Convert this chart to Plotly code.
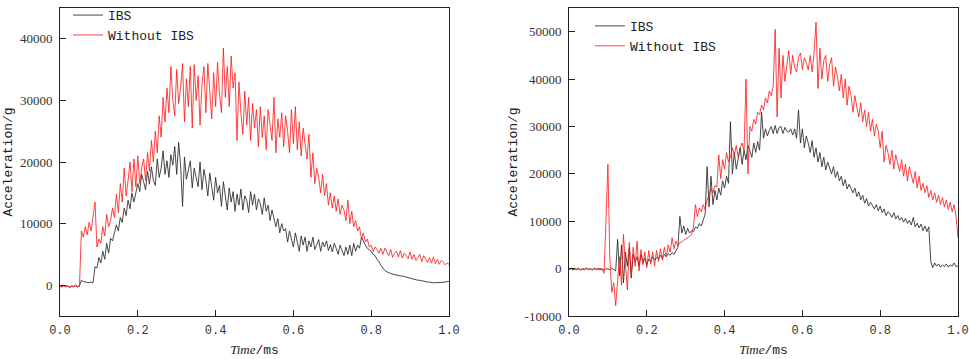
import numpy as np
import plotly.graph_objects as go

time_ms = [round(i * 0.005, 3) for i in range(201)]

# ---- left panel (values in thousands of g) ----
left_ibs_k = [
    -0.1, -0.2, 0.0, -0.2, -0.1, -0.3, -0.1, -0.2, 0.0, -0.2,
    -0.1, 0.8, 0.6, 0.5, 0.5, 0.4, 0.5, 0.4, 3.0, 2.8,
    4.5, 3.6, 5.5, 4.2, 6.8, 5.2, 7.6, 7.2, 8.5, 9.8,
    8.8, 11.0, 10.2, 12.5, 11.3, 13.8, 12.4, 15.0, 13.5, 14.8,
    16.5, 15.2, 18.0, 16.8, 15.5, 18.5, 16.4, 19.2, 17.0, 16.2,
    20.5, 17.5, 19.0, 21.8, 18.0, 20.2, 17.5, 21.2, 19.5, 22.5,
    18.0, 23.2, 19.5, 12.8, 20.8, 17.2, 18.5, 20.2, 15.8, 19.0,
    17.5, 16.0, 20.0, 15.5, 18.8, 17.0, 14.5, 18.2, 16.0, 13.8,
    17.5, 15.0, 16.2, 12.8, 16.8, 14.0, 12.2, 15.8, 13.5, 15.2,
    12.0, 14.8, 13.0, 15.6, 12.2, 14.5, 13.8, 11.8, 15.2, 13.0,
    14.8, 12.2, 14.0, 13.2, 11.5, 14.2, 12.0, 13.0, 10.5, 12.2,
    11.0, 9.5, 10.8, 8.5, 10.0, 8.8, 9.2, 7.0, 8.8, 7.5,
    6.2, 8.5, 7.0, 5.5, 8.0, 6.5, 7.8, 5.5, 7.2, 6.2,
    7.8, 5.8, 6.5, 7.4, 5.5, 7.0, 6.2, 7.2, 5.6, 6.6,
    5.4, 6.8, 6.0, 5.0, 6.5, 5.6, 4.8, 6.2, 5.0, 6.5,
    4.8, 6.8, 5.5, 6.5, 6.0, 7.8, 7.0, 6.5, 6.0, 5.8,
    5.5, 5.0, 4.8, 4.2, 3.8, 3.2, 2.8, 2.4, 2.2, 2.0,
    1.9, 1.8, 1.7, 1.6, 1.6, 1.5, 1.5, 1.4, 1.4, 1.3,
    1.2, 1.1, 1.0, 0.9, 0.8, 0.8, 0.7, 0.6, 0.6, 0.5,
    0.5, 0.4, 0.4, 0.4, 0.4, 0.4, 0.5, 0.5, 0.5, 0.6,
    0.6,
]
left_without_k = [
    -0.2, -0.3, -0.1, -0.3, -0.2, -0.4, -0.2, -0.3, -0.1, -0.3,
    -0.2, 8.8, 7.8, 9.5, 8.2, 10.2, 8.8, 11.0, 13.5, 6.2,
    7.5, 6.8, 9.5, 8.0, 11.5, 9.5, 10.5, 12.5, 11.0, 14.8,
    11.8, 16.5, 13.5, 19.0, 14.5, 17.0, 20.0, 15.2, 20.5, 16.0,
    21.0, 16.5, 19.0, 20.5, 17.0, 21.5, 18.5, 23.5, 20.0, 25.0,
    21.5, 27.5, 24.0, 30.5, 26.5, 32.0, 28.0, 35.5, 30.0, 27.5,
    35.0, 29.5, 32.0, 36.0, 26.5, 33.5, 29.0, 35.5, 25.5, 35.8,
    30.0, 34.0, 26.0, 32.5, 35.5, 28.0, 36.0, 31.5, 27.0, 34.5,
    29.0, 36.2, 31.0, 28.0, 38.5, 30.5, 35.5, 29.0, 37.2, 32.0,
    34.5, 23.5, 33.0, 28.0, 24.5, 31.5, 26.0, 30.5, 23.5, 29.5,
    25.5, 28.5, 22.5, 29.0, 24.0, 27.5, 22.0, 28.5, 25.5, 23.5,
    30.5, 21.5, 27.0, 24.0, 28.0, 22.5, 27.5, 25.0, 21.5, 28.5,
    23.0, 29.0, 22.0, 26.5, 21.0, 25.5, 23.0, 20.5, 24.5, 17.5,
    21.5, 16.5, 19.0, 17.5, 15.0, 18.0, 14.5, 16.5, 13.0, 15.0,
    12.5, 14.5, 12.0, 14.0, 11.5, 13.0, 12.2, 10.5, 13.8, 10.0,
    12.0, 9.5, 10.5, 8.8, 9.5, 7.5, 8.5, 7.0, 7.5, 6.2,
    6.5, 5.5, 6.2, 5.8, 5.2, 6.0, 5.0, 6.0, 5.4, 4.8,
    5.8, 4.5, 5.2, 5.5, 4.6, 5.6, 4.4, 5.2, 4.8, 4.3,
    5.4, 4.2, 5.0, 4.0, 4.5, 5.0, 3.8, 4.8, 4.2, 3.7,
    4.5, 3.6, 4.6, 3.5, 4.2, 3.4, 4.0, 3.8, 3.3, 3.6,
    3.4,
]

# ---- right panel (values in thousands of g) ----
right_ibs_k = [
    -0.2, 0.0, -0.3, -0.1, -0.2, 0.0, -0.3, -0.1, -0.2, 0.0,
    -0.2, -0.1, -0.3, 0.0, -0.2, -0.1, -0.2, -0.1, -0.3, 0.0,
    -0.1, -0.2, 0.1, -0.3, -0.5, 6.2, -1.5, 5.0, -3.0, 3.5,
    0.5, 4.5, -2.0, 3.0, 1.5, 2.5, 0.5, 3.0, 1.2, 2.2,
    0.8, 2.0, 1.5, 2.5, 1.8, 2.4, 2.0, 2.8, 2.2, 3.0,
    2.5, 3.2, 2.8, 3.4, 3.0, 3.8, 4.5, 11.0, 7.5, 9.0,
    7.2, 8.5, 7.5, 8.0, 7.8, 8.8, 8.5, 9.5, 9.0, 10.2,
    11.5, 21.5, 13.0, 19.5, 13.5, 16.5, 14.5, 17.0, 15.5, 18.5,
    17.0, 19.5, 18.0, 31.0, 20.0, 24.5, 21.0, 23.2, 25.5, 22.0,
    25.0, 23.0, 26.0, 24.8, 23.5, 26.5, 24.5, 26.8, 25.0, 33.0,
    27.5, 29.5, 28.0, 29.2, 30.0, 28.5, 30.2, 28.5, 29.8, 30.0,
    28.5, 29.8, 29.0, 28.8, 29.5, 28.2, 29.5, 27.5, 33.5, 26.5,
    29.5, 25.5, 28.0, 26.5, 24.5, 27.0, 23.5, 25.5, 22.5, 24.5,
    21.5, 23.5, 20.8, 22.5, 21.0, 20.0, 21.5, 19.2, 20.5, 18.5,
    19.5, 17.5, 18.8, 16.8, 17.8, 17.0, 16.0, 17.0, 15.2, 16.2,
    14.5, 15.5, 13.8, 14.8, 13.2, 14.0, 13.4, 12.6, 13.5, 12.2,
    13.2, 11.8, 12.6, 11.2, 12.0, 11.6, 10.8, 11.8, 10.5, 11.2,
    10.2, 10.8, 9.8, 10.6, 9.5, 10.2, 9.2, 10.8, 8.8, 9.6,
    8.6, 9.4, 8.0, 9.0, 7.8, 8.8, 1.5, 0.2, 1.2, 0.5,
    1.0, 0.3, 0.8, 0.4, 1.0, 0.3, 0.8, 0.5, 1.2, 0.4,
    0.6,
]
right_without_k = [
    -0.1, 0.1, -0.2, 0.0, -0.1, 0.1, -0.2, 0.0, -0.1, 0.2,
    -0.1, 0.0, -0.2, 0.1, -0.1, 0.0, 0.1, -0.1, -1.0, 10.0,
    22.0, 2.0, -5.0, -3.0, -7.8, -2.5, 2.5, -3.5, 7.2, 1.0,
    -4.5, 5.5, -1.5, 4.5, 0.5, 5.8, -0.5, 4.0, 0.8, 3.5,
    0.2, 3.8, 1.0, 3.5, 0.5, 3.8, 1.5, 4.2, 1.8, 4.5,
    2.5, 5.0, 3.5, 6.5, 4.2, 5.8, 4.8, 5.5, 5.6, 6.0,
    6.2, 6.5, 6.8, 7.2, 8.8, 13.5, 11.0, 12.8, 12.0, 13.5,
    12.5, 14.5, 15.5, 16.8, 16.0, 17.5, 17.2, 24.0, 19.0, 23.0,
    21.0, 24.5, 22.5, 23.5, 25.5, 24.0, 26.0, 23.5, 25.5, 26.5,
    25.0, 40.0, 20.0, 30.0, 29.0, 31.5, 30.5, 33.0, 32.5, 34.5,
    33.5, 36.0, 35.0, 37.5, 36.5, 38.5, 50.5, 32.0, 46.5, 36.0,
    45.0, 39.5, 43.0, 46.0, 41.0, 45.0, 42.5, 41.5, 44.5, 45.5,
    42.0, 44.5, 43.5, 42.0, 45.0, 41.5, 45.5, 52.0, 38.0, 46.5,
    40.0, 44.0, 45.0, 39.5, 43.0, 44.5, 38.5, 42.5, 40.5, 37.5,
    41.0, 36.0, 40.0, 34.5, 38.5, 36.5, 33.0, 36.5, 34.0, 32.0,
    35.0, 31.0, 33.5, 30.0, 33.0, 29.0, 31.5, 28.0, 30.5, 29.0,
    25.5, 29.0, 22.5, 26.0, 24.5, 22.0, 25.0, 21.0, 24.0, 22.5,
    20.5, 23.0, 19.5, 22.0, 18.5, 21.5, 20.0, 18.0, 20.5, 17.0,
    19.5, 16.5, 18.0, 16.0, 17.5, 15.0, 16.5, 14.5, 16.0, 14.0,
    15.5, 13.5, 15.0, 13.0, 14.5, 12.5, 14.0, 12.0, 13.5, 11.0,
    6.5,
]

for arr in (left_ibs_k, left_without_k, right_ibs_k, right_without_k):
    assert len(arr) == len(time_ms), len(arr)

series_names = ["IBS", "Without IBS"]
x_tickvals = [0.0, 0.2, 0.4, 0.6, 0.8, 1.0]
x_ticktext = ["0.0", "0.2", "0.4", "0.6", "0.8", "1.0"]
left_y_tickvals = [0, 10000, 20000, 30000, 40000]
left_y_ticktext = ["0", "10000", "20000", "30000", "40000"]
right_y_tickvals = [-10000, 0, 10000, 20000, 30000, 40000, 50000]
right_y_ticktext = ["-10000", "0", "10000", "20000", "30000", "40000", "50000"]

IBS_COLOR = "rgba(40,40,40,0.85)"
RED_COLOR = "rgba(255,20,20,0.8)"
MONO = "'Liberation Mono', 'Courier New', monospace"
SERIF = "'Liberation Serif', 'Times New Roman', serif"

fig = go.Figure()
fig.add_trace(go.Scatter(x=time_ms, y=np.array(left_ibs_k) * 1000, mode="lines",
                         name=series_names[0], line=dict(color=IBS_COLOR, width=1),
                         xaxis="x", yaxis="y", legend="legend"))
fig.add_trace(go.Scatter(x=time_ms, y=np.array(left_without_k) * 1000, mode="lines",
                         name=series_names[1], line=dict(color=RED_COLOR, width=1),
                         xaxis="x", yaxis="y", legend="legend"))
fig.add_trace(go.Scatter(x=time_ms, y=np.array(right_ibs_k) * 1000, mode="lines",
                         name=series_names[0], line=dict(color=IBS_COLOR, width=1),
                         xaxis="x2", yaxis="y2", legend="legend2"))
fig.add_trace(go.Scatter(x=time_ms, y=np.array(right_without_k) * 1000, mode="lines",
                         name=series_names[1], line=dict(color=RED_COLOR, width=1),
                         xaxis="x2", yaxis="y2", legend="legend2"))

W, H = 969, 359
axis_common = dict(showline=True, linecolor="#222", linewidth=1, mirror=True,
                   ticks="inside", ticklen=6, tickcolor="#222", showgrid=False,
                   zeroline=False, automargin=False)
xt = dict(text="<i><span style=\"font-family:'Liberation Serif','Times New Roman',serif\">Time</span></i>/ms",
          font=dict(family=MONO, size=13, color="#222"), standoff=7)
yt = dict(text="Acceleration/g", font=dict(family=MONO, size=13, color="#222"), standoff=4)

fig.update_layout(
    width=W, height=H,
    margin=dict(l=0, r=0, t=3, b=43),
    paper_bgcolor="white", plot_bgcolor="white",
    xaxis=dict(domain=[60 / W, 449 / W], range=[0, 1], tickvals=x_tickvals, ticktext=x_ticktext,
               tickfont=dict(family=MONO, size=12, color="#333"), title=xt, anchor="y",
               ticklabelstandoff=3, **axis_common),
    yaxis=dict(range=[-5000, 45000], tickvals=left_y_tickvals, ticktext=left_y_ticktext,
               tickfont=dict(family=SERIF, size=13, color="#333"), title=yt, anchor="x",
               ticklabelstandoff=4, **axis_common),
    xaxis2=dict(domain=[569 / W, 958 / W], range=[0, 1], tickvals=x_tickvals, ticktext=x_ticktext,
                tickfont=dict(family=MONO, size=12, color="#333"), title=xt, anchor="y2",
                ticklabelstandoff=3, **axis_common),
    yaxis2=dict(range=[-10000, 55000], tickvals=right_y_tickvals, ticktext=right_y_ticktext,
                tickfont=dict(family=SERIF, size=13, color="#333"), title=yt, anchor="x2",
                ticklabelstandoff=4, **axis_common),
    legend=dict(x=68 / W, y=1 + 8 / 313, xanchor="left", yanchor="top", bgcolor="rgba(0,0,0,0)",
                font=dict(family=MONO, size=13, color="#222"), tracegroupgap=0),
    legend2=dict(x=590 / W, y=1 - 3 / 313, xanchor="left", yanchor="top", bgcolor="rgba(0,0,0,0)",
                 font=dict(family=MONO, size=13, color="#222"), tracegroupgap=0),
    showlegend=True,
)

fig.write_html("out.html", config={"displayModeBar": False},
               post_script="document.body.style.margin='0';document.body.style.padding='0';")
